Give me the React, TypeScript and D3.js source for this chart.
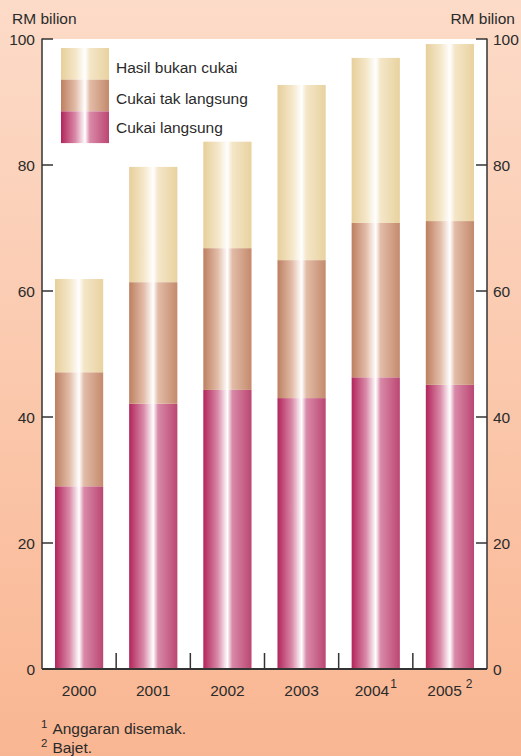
import * as d3 from 'd3';
import React from 'react';

// years and footnote markers
const years = ['2000', '2001', '2002', '2003', '2004', '2005'];
const yearNotes = ['', '', '', '', '1', '2'];

// RM billion per component
const cukaiLangsung = [29.0, 42.1, 44.3, 43.0, 46.3, 45.1];
const cukaiTakLangsung = [18.1, 19.3, 22.5, 21.9, 24.5, 26.0];
const hasilBukanCukai = [14.8, 18.3, 16.9, 27.8, 26.2, 28.1];

const seriesNames = ['Cukai langsung', 'Cukai tak langsung', 'Hasil bukan cukai'];
const yTicks = [0, 20, 40, 60, 80, 100];
const footnotes = ['Anggaran disemak.', 'Bajet.'];

const W = 521;
const H = 756;
const margin = { top: 39, right: 34, bottom: 87, left: 42 };

const gradients = [
  { id: 'g-direct', edge: '#b2245b', mid: '#d98aa8', edgeR: '#bb4672' },
  { id: 'g-indirect', edge: '#bd7f60', mid: '#e2bca8', edgeR: '#c48a6c' },
  { id: 'g-nontax', edge: '#e7cf9b', mid: '#f4e6c8', edgeR: '#e8d29f' },
];

const font = 'Liberation Sans, Arial, sans-serif';
const textColor = '#2b2b2b';
const fs = 15.5;

const App = () => {
  const x = d3
    .scaleBand()
    .domain(years)
    .range([margin.left, W - margin.right])
    .paddingInner(0.35)
    .paddingOuter(0.175);

  const y = d3
    .scaleLinear()
    .domain([0, 100])
    .range([H - margin.bottom, margin.top]);

  const rows = years.map((yr, i) => ({
    year: yr,
    a: cukaiLangsung[i],
    b: cukaiTakLangsung[i],
    c: hasilBukanCukai[i],
  }));
  const stacked = d3.stack<any>().keys(['a', 'b', 'c'])(rows);

  const x0 = margin.left;
  const x1 = W - margin.right;
  const yBase = y(0);
  const yTop = y(100);
  const step = x.step();
  const bw = x.bandwidth();

  // separators between year groups
  const seps = years.slice(1).map((_, i) => x0 + step * (i + 1));

  const legendOrder = [2, 1, 0];
  const legendY = [73, 104, 133];

  return (
    <svg width={W} height={H} style={{ position: 'absolute', left: 0, top: 0 }}>
      <defs>
        <linearGradient id="bg" x1="0" y1="0" x2="0" y2="1">
          <stop offset="0%" stopColor="#fcdbc8" />
          <stop offset="100%" stopColor="#f9b692" />
        </linearGradient>
        {gradients.map((g) => (
          <linearGradient key={g.id} id={g.id} x1="0" y1="0" x2="1" y2="0">
            <stop offset="0%" stopColor={g.edge} />
            <stop offset="30%" stopColor={g.mid} />
            <stop offset="50%" stopColor="#ffffff" />
            <stop offset="60%" stopColor={g.mid} />
            <stop offset="100%" stopColor={g.edgeR} />
          </linearGradient>
        ))}
      </defs>

      <rect x={0} y={0} width={W} height={H} fill="url(#bg)" />
      <rect x={x0} y={yTop} width={x1 - x0} height={yBase - yTop} fill="#ffffff" />

      {/* bars */}
      {stacked.map((s, si) => (
        <g key={si}>
          {s.map((d, i) => (
            <rect
              key={i}
              x={x(years[i])}
              y={y(d[1])}
              width={bw}
              height={y(d[0]) - y(d[1])}
              fill={`url(#${gradients[si].id})`}
            />
          ))}
        </g>
      ))}

      {/* separators */}
      {seps.map((s, i) => (
        <line key={i} x1={s} x2={s} y1={yBase} y2={yBase - 16} stroke="#333" strokeWidth={1.5} />
      ))}

      {/* axes */}
      <line x1={x0} x2={x0} y1={yTop - 0.5} y2={yBase} stroke="#333" strokeWidth={1.5} />
      <line x1={x1} x2={x1} y1={yTop - 0.5} y2={yBase} stroke="#333" strokeWidth={1.5} />
      <line x1={x0} x2={x1} y1={yBase} y2={yBase} stroke="#333" strokeWidth={2} />
      {yTicks.map((t) => (
        <g key={t}>
          <line x1={x0} x2={x0 + 11} y1={y(t)} y2={y(t)} stroke="#333" strokeWidth={1.5} />
          <line x1={x1} x2={x1 - 11} y1={y(t)} y2={y(t)} stroke="#333" strokeWidth={1.5} />
          <text x={x0 - 7} y={y(t) + 5.5} textAnchor="end" fontSize={fs} fontFamily={font} fill={textColor}>
            {t}
          </text>
          <text x={x1 + 6} y={y(t) + 5.5} textAnchor="start" fontSize={fs} fontFamily={font} fill={textColor}>
            {t}
          </text>
        </g>
      ))}

      <text x={12} y={24} fontSize={fs} fontFamily={font} fill={textColor}>RM bilion</text>
      <text x={515} y={24} textAnchor="end" fontSize={fs} fontFamily={font} fill={textColor}>RM bilion</text>

      {/* year labels */}
      {years.map((yr, i) => (
        <text
          key={yr}
          x={(x(yr) as number) + bw / 2}
          y={yBase + 27}
          textAnchor="middle"
          fontSize={fs}
          fontFamily={font}
          fill={textColor}
        >
          {yr}
          {yearNotes[i] && (
            <tspan dx={i === 5 ? 4 : 1} dy={-8} fontSize={12}>{yearNotes[i]}</tspan>
          )}
        </text>
      ))}

      {/* legend */}
      {legendOrder.map((si, k) => (
        <g key={si}>
          <rect x={61} y={48 + k * 31.7} width={48} height={31.7} fill={`url(#${gradients[si].id})`} />
          <text x={116} y={legendY[k]} fontSize={fs} fontFamily={font} fill={textColor}>
            {seriesNames[si]}
          </text>
        </g>
      ))}

      {/* footnotes */}
      {footnotes.map((f, i) => (
        <text key={i} x={41} y={734 + i * 19} fontSize={fs} fontFamily={font} fill={textColor}>
          <tspan fontSize={11.5} dy={-6}>{i + 1}</tspan>
          <tspan dx={5} dy={6}>{f}</tspan>
        </text>
      ))}
    </svg>
  );
};

export default App;
